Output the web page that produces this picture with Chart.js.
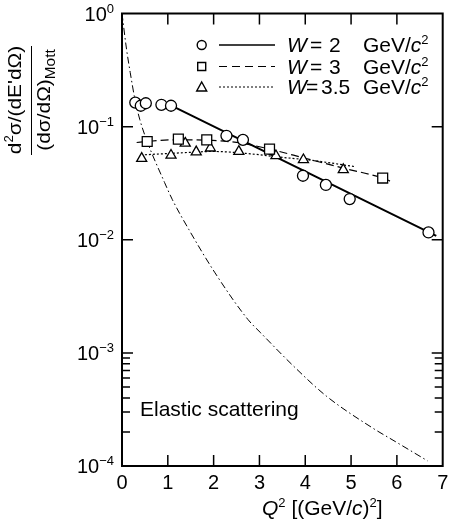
<!DOCTYPE html>
<html>
<head>
<meta charset="utf-8">
<script src="https://cdn.jsdelivr.net/npm/chart.js@4.4.1/dist/chart.umd.min.js"></script>
<style>
html, body { margin: 0; padding: 0; background: #fff; }
#wrap { width: 451px; height: 525px; }
</style>
</head>
<body>
<div id="wrap"><canvas id="chart" width="451" height="525"></canvas></div>
<script>
// Valeurs (Q^2 en (GeV/c)^2, rapport sans dimension)
const q2W2 = [0.29, 0.41, 0.52, 0.86, 1.07, 2.28, 2.64, 3.95, 4.45, 4.97, 6.69];
const valW2 = [0.163, 0.153, 0.161, 0.156, 0.153, 0.083, 0.0764, 0.0368, 0.0305, 0.0229, 0.0116];
const q2FitW2 = [1.1, 6.86];
const valFitW2 = [0.152, 0.0108];

const q2W3 = [0.55, 1.23, 1.85, 3.22, 5.69];
const valW3 = [0.0739, 0.0776, 0.0764, 0.0633, 0.0351];
const q2CurveW3 = [0.32, 0.55, 1.2, 1.85, 2.6, 3.22, 4.0, 4.85, 5.69, 5.85];
const valCurveW3 = [0.0724, 0.074, 0.0765, 0.076, 0.0715, 0.0633, 0.0525, 0.0428, 0.0351, 0.033];

const q2W35 = [0.43, 1.07, 1.38, 1.62, 1.93, 2.55, 3.36, 3.96, 4.83];
const valW35 = [0.0523, 0.0558, 0.0713, 0.0597, 0.0646, 0.0603, 0.0552, 0.0509, 0.0416];
const q2CurveW35 = [0.5, 1.2, 2.0, 2.8, 3.4, 4.2, 5.1];
const valCurveW35 = [0.0564, 0.0584, 0.0603, 0.0575, 0.054, 0.05, 0.0442];

const q2Elastic = [0, 0.1, 0.18, 0.285, 0.39, 0.535, 0.93, 1.1, 1.46, 2.03, 2.75, 3.03, 3.75, 4.46, 5.46, 5.96, 6.67];
const valElastic = [1.0, 0.48, 0.30, 0.172, 0.115, 0.0765, 0.032, 0.0226, 0.0123, 0.0051, 0.00197, 0.0015, 0.00076, 0.000415, 0.000218, 0.000165, 0.000111];

const xTicks = [0, 1, 2, 3, 4, 5, 6, 7];
const yDecades = [1, 1e-1, 1e-2, 1e-3, 1e-4];
const yExponents = ['0', '\u22121', '\u22122', '\u22123', '\u22124'];
const yMinor = [2e-4, 3e-4, 4e-4, 5e-4, 6e-4, 7e-4, 8e-4, 9e-4];

const legendValues = ['2', '3', '3.5'];
const elasticLabel = 'Elastic scattering';

const FONT = '"Liberation Sans", Arial, Helvetica, sans-serif';

function pts(xs, ys) {
    return xs.map((x, i) => ({ x: x, y: ys[i] }));
}

// Dessine une suite de morceaux de texte (italique, exposant, indice)
function drawRuns(ctx, runs, x, y, measureOnly) {
    let cx = x;
    runs.forEach(r => {
        ctx.font = (r.it ? 'italic ' : '') + r.s + 'px ' + FONT;
        if (!measureOnly) ctx.fillText(r.t, cx, y + (r.dy || 0));
        cx += ctx.measureText(r.t).width;
    });
    return cx - x;
}

const decor = {
    id: 'decor',
    afterDraw(chart) {
        const ctx = chart.ctx;
        const a = chart.chartArea;
        const sx = chart.scales.x;
        const sy = chart.scales.y;
        ctx.save();
        ctx.strokeStyle = '#000';
        ctx.fillStyle = '#000';
        ctx.setLineDash([]);

        // graduations vers l'intérieur
        ctx.lineWidth = 1.5;
        ctx.beginPath();
        xTicks.slice(1, -1).forEach(v => {
            const px = sx.getPixelForValue(v);
            ctx.moveTo(px, a.bottom); ctx.lineTo(px, a.bottom - 11);
            ctx.moveTo(px, a.top); ctx.lineTo(px, a.top + 11);
        });
        yDecades.slice(1, -1).forEach(v => {
            const py = sy.getPixelForValue(v);
            ctx.moveTo(a.left, py); ctx.lineTo(a.left + 11, py);
            ctx.moveTo(a.right, py); ctx.lineTo(a.right - 11, py);
        });
        yMinor.forEach(v => {
            const py = sy.getPixelForValue(v);
            ctx.moveTo(a.left, py); ctx.lineTo(a.left + 8, py);
            ctx.moveTo(a.right, py); ctx.lineTo(a.right - 8, py);
        });
        ctx.stroke();

        // cadre
        ctx.lineWidth = 2;
        ctx.strokeRect(a.left, a.top, a.right - a.left, a.bottom - a.top);

        // étiquettes de l'axe y : 10^n
        ctx.textBaseline = 'alphabetic';
        ctx.textAlign = 'left';
        yDecades.forEach((v, i) => {
            const py = sy.getPixelForValue(v);
            const right = a.left - 8;
            ctx.font = '13px ' + FONT;
            const ew = ctx.measureText(yExponents[i]).width;
            ctx.font = '20px ' + FONT;
            const bw = ctx.measureText('10').width;
            ctx.fillText('10', right - ew - bw, py + 7);
            ctx.font = '13px ' + FONT;
            ctx.fillText(yExponents[i], right - ew, py - 1);
        });

        // titre de l'axe x
        drawRuns(ctx, [
            { t: 'Q', s: 21, it: true },
            { t: '2', s: 13, dy: -8 },
            { t: ' [(GeV/', s: 21 },
            { t: 'c', s: 21, it: true },
            { t: ')', s: 21 },
            { t: '2', s: 13, dy: -8 },
            { t: ']', s: 21 }
        ], 262, 515);

        // titre de l'axe y (fraction tournée)
        const num = [
            { t: 'd', s: 19 },
            { t: '2', s: 12, dy: -8 },
            { t: '\u03c3/(dE\'d\u03a9)', s: 19 }
        ];
        const den = [
            { t: '(d\u03c3/d\u03a9)', s: 19 },
            { t: 'Mott', s: 14, dy: 5 }
        ];
        ctx.save();
        ctx.translate(0, 100);
        ctx.rotate(-Math.PI / 2);
        ctx.scale(1.1, 1);
        const wn = drawRuns(ctx, num, 0, 0, true);
        drawRuns(ctx, num, -wn / 2, 21);
        const wd = drawRuns(ctx, den, 0, 0, true);
        drawRuns(ctx, den, -wd / 2, 50);
        ctx.restore();
        ctx.lineWidth = 1;
        ctx.beginPath();
        ctx.moveTo(31.5, 46); ctx.lineTo(31.5, 155);
        ctx.stroke();

        // légende
        const rows = [45, 66.5, 87];
        const mx = 201.7;
        ctx.lineWidth = 1.4;
        rows.forEach((ry, i) => {
            ctx.setLineDash([]);
            ctx.fillStyle = '#fff';
            ctx.beginPath();
            if (i === 0) {
                ctx.arc(mx, ry, 4.5, 0, Math.PI * 2);
            } else if (i === 1) {
                ctx.rect(mx - 4, ry - 4, 8, 8);
            } else {
                ctx.moveTo(mx, ry - 5);
                ctx.lineTo(mx + 5, ry + 4);
                ctx.lineTo(mx - 5, ry + 4);
                ctx.closePath();
            }
            ctx.fill();
            ctx.stroke();
            ctx.fillStyle = '#000';

            ctx.beginPath();
            if (i === 0) { ctx.lineWidth = 1.6; ctx.setLineDash([]); }
            if (i === 1) { ctx.lineWidth = 1.2; ctx.setLineDash([8, 5]); }
            if (i === 2) { ctx.lineWidth = 1.2; ctx.setLineDash([2, 2]); }
            ctx.moveTo(219, ry); ctx.lineTo(275, ry);
            ctx.stroke();
            ctx.setLineDash([]);
            ctx.lineWidth = 1.4;

            const base = ry + 7;
            drawRuns(ctx, [{ t: 'W', s: 21, it: true }], 287, base);
            drawRuns(ctx, [{ t: '=', s: 21 }], i === 2 ? 306 : 310, base);
            drawRuns(ctx, [{ t: legendValues[i], s: 21 }], i === 2 ? 321 : 329, base);
            drawRuns(ctx, [
                { t: 'GeV/', s: 21 },
                { t: 'c', s: 21, it: true },
                { t: '2', s: 13, dy: -8 }
            ], 363, base);
        });

        // texte diffusion élastique
        ctx.font = '21px ' + FONT;
        ctx.fillText(elasticLabel, 140, 416);

        ctx.restore();
    }
};

const markerBase = {
    showLine: false,
    pointBackgroundColor: '#fff',
    pointBorderColor: '#000',
    pointBorderWidth: 1.3,
    order: 0
};
const lineBase = {
    showLine: true,
    pointRadius: 0,
    borderColor: '#000',
    fill: false,
    cubicInterpolationMode: 'monotone',
    order: 1
};

const config = {
    type: 'scatter',
    data: {
        datasets: [
            Object.assign({}, markerBase, { label: 'W = 2', data: pts(q2W2, valW2), pointStyle: 'circle', pointRadius: 5.5 }),
            Object.assign({}, markerBase, { label: 'W = 3', data: pts(q2W3, valW3), pointStyle: 'rect', pointRadius: 7 }),
            Object.assign({}, markerBase, { label: 'W = 3.5', data: pts(q2W35, valW35), pointStyle: 'triangle', pointRadius: 5.8 }),
            Object.assign({}, lineBase, { label: 'fit W = 2', data: pts(q2FitW2, valFitW2), borderWidth: 2 }),
            Object.assign({}, lineBase, { label: 'fit W = 3', data: pts(q2CurveW3, valCurveW3), borderWidth: 1.2, borderDash: [8, 4] }),
            Object.assign({}, lineBase, { label: 'fit W = 3.5', data: pts(q2CurveW35, valCurveW35), borderWidth: 1.2, borderDash: [2, 2] }),
            Object.assign({}, lineBase, { label: 'elastic', data: pts(q2Elastic, valElastic), borderWidth: 1, borderDash: [7, 3, 1.5, 3] })
        ]
    },
    options: {
        responsive: false,
        devicePixelRatio: 1,
        animation: false,
        events: [],
        layout: {
            padding: { top: 13.5, right: 2.5, left: 0, bottom: 0 }
        },
        plugins: {
            legend: { display: false },
            tooltip: { enabled: false }
        },
        scales: {
            x: {
                type: 'linear',
                min: 0,
                max: 7,
                afterBuildTicks: s => { s.ticks = xTicks.map(v => ({ value: v })); },
                ticks: {
                    color: '#000',
                    padding: 5,
                    maxRotation: 0,
                    font: { size: 20, family: FONT }
                },
                grid: { display: false, drawTicks: false },
                border: { display: false },
                afterFit: s => { s.height = 59; s.paddingLeft = 0; s.paddingRight = 0; }
            },
            y: {
                type: 'logarithmic',
                min: 1e-4,
                max: 1,
                ticks: { display: false },
                grid: { display: false, drawTicks: false },
                border: { display: false },
                afterFit: s => { s.width = 122; s.paddingTop = 0; s.paddingBottom = 0; }
            }
        }
    },
    plugins: [decor]
};

new Chart(document.getElementById('chart'), config);
</script>
</body>
</html>
